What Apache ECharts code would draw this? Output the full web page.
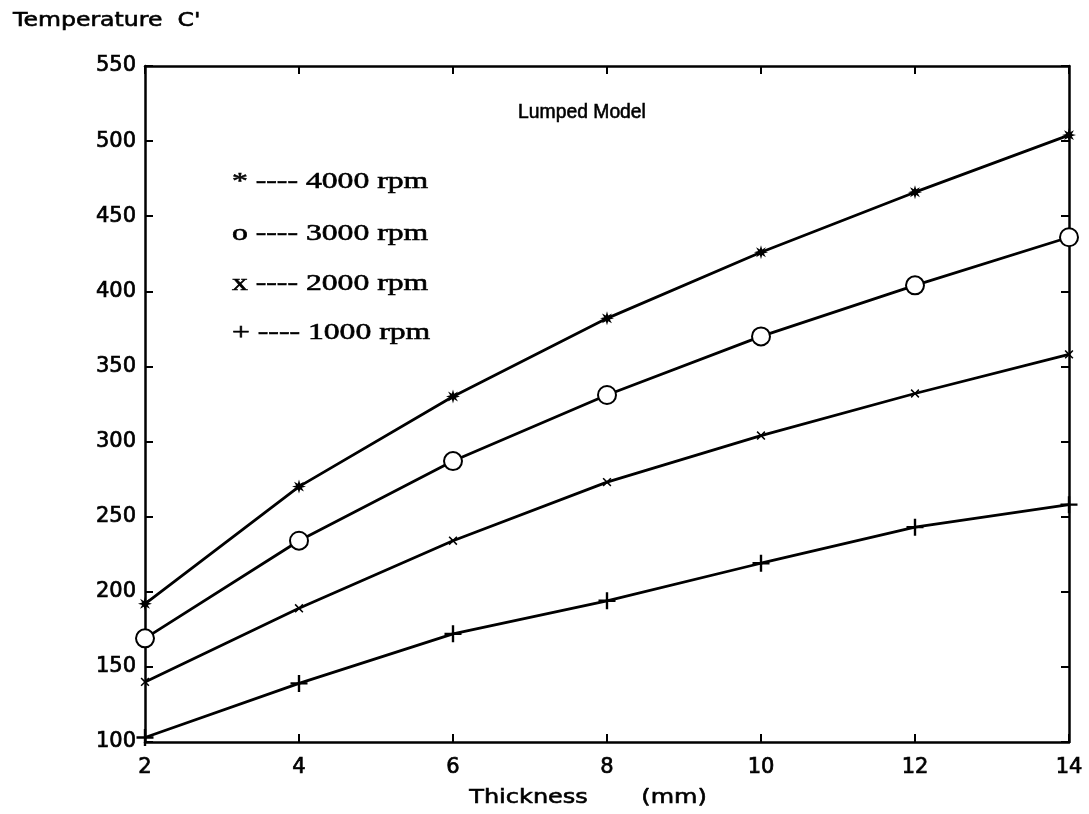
<!DOCTYPE html>
<html>
<head>
<meta charset="utf-8">
<script src="https://cdn.jsdelivr.net/npm/echarts@6/dist/echarts.min.js"></script>
<style>html,body{margin:0;padding:0;background:#fff}#c{width:1089px;height:814px}</style>
</head>
<body>
<div id="c"></div>
<script>
const thickness = [2, 4, 6, 8, 10, 12, 14];
const rpm4000 = [192, 270, 330, 382, 426, 466, 504];
const rpm3000 = [169, 234, 287, 331, 370, 404, 436];
const rpm2000 = [140, 189, 234, 273, 304, 332, 358];
const rpm1000 = [103, 139, 172, 194, 219, 243, 258];
const legendLines = ["* ---- 4000 rpm", "o ---- 3000 rpm", "x ---- 2000 rpm", "+ ---- 1000 rpm"];
const titleText = "Lumped Model";
const yName = "Temperature  C'";
const xName = "Thickness       (mm)";

function starPath(n, ro, ri) {
  let d = "path://";
  for (let i = 0; i < 2 * n; i++) {
    const a = Math.PI * i / n - Math.PI / 2;
    const r = i % 2 === 0 ? ro : ri;
    d += (i === 0 ? "M" : "L") + (r * Math.cos(a)).toFixed(3) + "," + (r * Math.sin(a)).toFixed(3);
  }
  return d + "Z";
}
const plusPath = "path://M-0.7,-5L0.7,-5L0.7,-0.7L5,-0.7L5,0.7L0.7,0.7L0.7,5L-0.7,5L-0.7,0.7L-5,0.7L-5,-0.7L-0.7,-0.7Z";

function pts(arr) { return thickness.map((t, i) => [t, arr[i]]); }

const chart = echarts.init(document.getElementById('c'), null, {renderer: 'canvas'});
const FONT = "DejaVu Sans";
const lab = {fontFamily: FONT, fontSize: 21, color: '#000', textBorderColor: '#000', textBorderWidth: 0.7};
function mkSeries(name, arr, symbol, size, extra) {
  return Object.assign({
    name: name, type: 'line', data: pts(arr), symbol: symbol, symbolSize: size,
    showAllSymbol: true,
    lineStyle: {color: '#000', width: 2.8},
    itemStyle: {color: '#000', borderColor: '#000', borderWidth: 0},
    emphasis: {disabled: true}, animation: false, z: 3
  }, extra || {});
}
chart.setOption({
  animation: false,
  backgroundColor: '#fff',
  grid: {left: 145, right: 20, top: 66, bottom: 72, show: false},
  xAxis: [{
    type: 'value', min: 2, max: 14, interval: 2,
    axisLine: {show: true, onZero: false, lineStyle: {color: '#000', width: 2.5}},
    axisTick: {show: true, inside: true, length: 8, lineStyle: {color: '#000', width: 2}},
    axisLabel: Object.assign({margin: 15}, lab),
    splitLine: {show: false}
  }, {
    type: 'value', min: 2, max: 14, interval: 2, position: 'top',
    axisLine: {show: true, onZero: false, lineStyle: {color: '#000', width: 2.5}},
    axisTick: {show: true, inside: true, length: 8, lineStyle: {color: '#000', width: 2}},
    axisLabel: {show: false}, splitLine: {show: false}
  }],
  yAxis: [{
    type: 'value', min: 100, max: 550, interval: 50,
    axisLine: {show: true, onZero: false, lineStyle: {color: '#000', width: 2.5}},
    axisTick: {show: true, inside: true, length: 8, lineStyle: {color: '#000', width: 2}},
    axisLabel: Object.assign({margin: 9}, lab),
    splitLine: {show: false}
  }, {
    type: 'value', min: 100, max: 550, interval: 50, position: 'right',
    axisLine: {show: true, onZero: false, lineStyle: {color: '#000', width: 2.5}},
    axisTick: {show: true, inside: true, length: 8, lineStyle: {color: '#000', width: 2}},
    axisLabel: {show: false}, splitLine: {show: false}
  }],
  series: [
    mkSeries('4000 rpm', rpm4000, starPath(8, 5, 2.2), 14),
    mkSeries('3000 rpm', rpm3000, 'emptyCircle', 18, {itemStyle: {color: '#000', borderColor: '#000', borderWidth: 2.5}}),
    mkSeries('2000 rpm', rpm2000, plusPath, 11, {symbolRotate: 45}),
    mkSeries('1000 rpm', rpm1000, plusPath, 17)
  ],
  graphic: [
    {type: 'text', x: 13, y: 21, scaleX: 1.18,
     style: {text: yName, font: '20px "DejaVu Sans"', fill: '#000', stroke: '#000', lineWidth: 0.6, verticalAlign: 'middle'}},
    {type: 'text', x: 588, y: 798, scaleX: 1.2,
     style: {text: xName, font: '20px "DejaVu Sans"', fill: '#000', stroke: '#000', lineWidth: 0.6, verticalAlign: 'middle', textAlign: 'center'}},
    {type: 'text', x: 582, y: 112, scaleX: 0.92,
     style: {text: titleText, font: '21px "Liberation Sans"', fill: '#000', stroke: '#000', lineWidth: 0.6, verticalAlign: 'middle', textAlign: 'center'}}
  ].concat(legendLines.map((t, i) => ({
    type: 'text', x: 232, y: [182, 234, 284, 333][i], scaleX: 1.32,
    style: {text: t, font: '24px "Liberation Serif"', fill: '#000', stroke: '#000', lineWidth: 0.6, verticalAlign: 'middle', textAlign: 'left'}
  })))
});
</script>
</body>
</html>
